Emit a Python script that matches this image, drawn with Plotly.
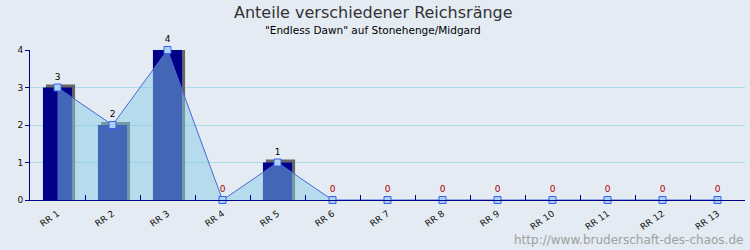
import plotly.graph_objects as go

categories = [f"RR {i}" for i in range(1, 14)]
values = [3, 2, 4, 0, 1, 0, 0, 0, 0, 0, 0, 0, 0]
title_text = "Anteile verschiedener Reichsränge"
subtitle_text = '"Endless Dawn" auf Stonehenge/Midgard'
watermark = "http://www.bruderschaft-des-chaos.de"

BG = "#e4ebf3"
NAVY = "#000088"
bar_w = 0.53
shift_x = 3 / 55
shift_y = 3 / 37.5
shadow_vals = [v + shift_y if v else 0 for v in values]
label_colors = ["#000000" if v else "#aa0000" for v in values]

fig = go.Figure()
fig.add_trace(go.Bar(x=categories, y=shadow_vals, width=bar_w, offset=-bar_w / 2 + shift_x,
                     marker=dict(color="#666666", line=dict(width=0)), hoverinfo="skip"))
fig.add_trace(go.Bar(x=categories, y=values, width=bar_w, offset=-bar_w / 2,
                     marker=dict(color=NAVY, line=dict(width=0))))
fig.add_trace(go.Scatter(x=categories, y=values, mode="lines+markers+text",
                         fill="tozeroy", fillcolor="rgba(133,204,229,0.5)",
                         line=dict(color="#4a68d8", width=1),
                         marker=dict(symbol="square", size=7, color="#a9d3f5",
                                     line=dict(color="#3b5ff5", width=1)),
                         text=[str(v) for v in values], textposition="top center",
                         textfont=dict(size=9, color=label_colors, family="DejaVu Sans"),
                         cliponaxis=False))

fig.update_layout(
    width=750, height=250, margin=dict(l=30, r=5, t=50, b=50),
    paper_bgcolor=BG, plot_bgcolor=BG, showlegend=False, barmode="overlay",
    font=dict(family="DejaVu Sans", size=9, color="#000000"),
    annotations=[
        dict(text=title_text, xref="paper", yref="paper", x=0.48, y=1, yshift=38,
             xanchor="center", yanchor="middle", showarrow=False,
             font=dict(size=16, color="#333333", family="DejaVu Sans")),
        dict(text=subtitle_text, xref="paper", yref="paper", x=0.48, y=1, yshift=20,
             xanchor="center", yanchor="middle", showarrow=False,
             font=dict(size=10.5, color="#000000", family="DejaVu Sans")),
        dict(text=watermark, xref="paper", yref="paper", x=1, y=0, yshift=-40,
             xanchor="right", yanchor="middle", showarrow=False,
             font=dict(size=12, color="#a0a0a0", family="DejaVu Sans")),
    ],
)
fig.update_xaxes(type="category", range=[-0.5, 12.5], showline=True, linecolor=NAVY, linewidth=1,
                 ticks="inside", tickson="boundaries", ticklen=5, tickcolor=NAVY,
                 tickangle=-35, ticklabelstandoff=4, showgrid=False,
                 tickfont=dict(size=9, color="#111111"))
fig.update_yaxes(range=[0, 4], dtick=1, showline=True, linecolor=NAVY, linewidth=1,
                 ticks="outside", ticklen=4, tickcolor=NAVY, gridcolor="#a8dce8",
                 zeroline=False, tickfont=dict(size=9, color="#111111"))

fig.write_html("out.html")
